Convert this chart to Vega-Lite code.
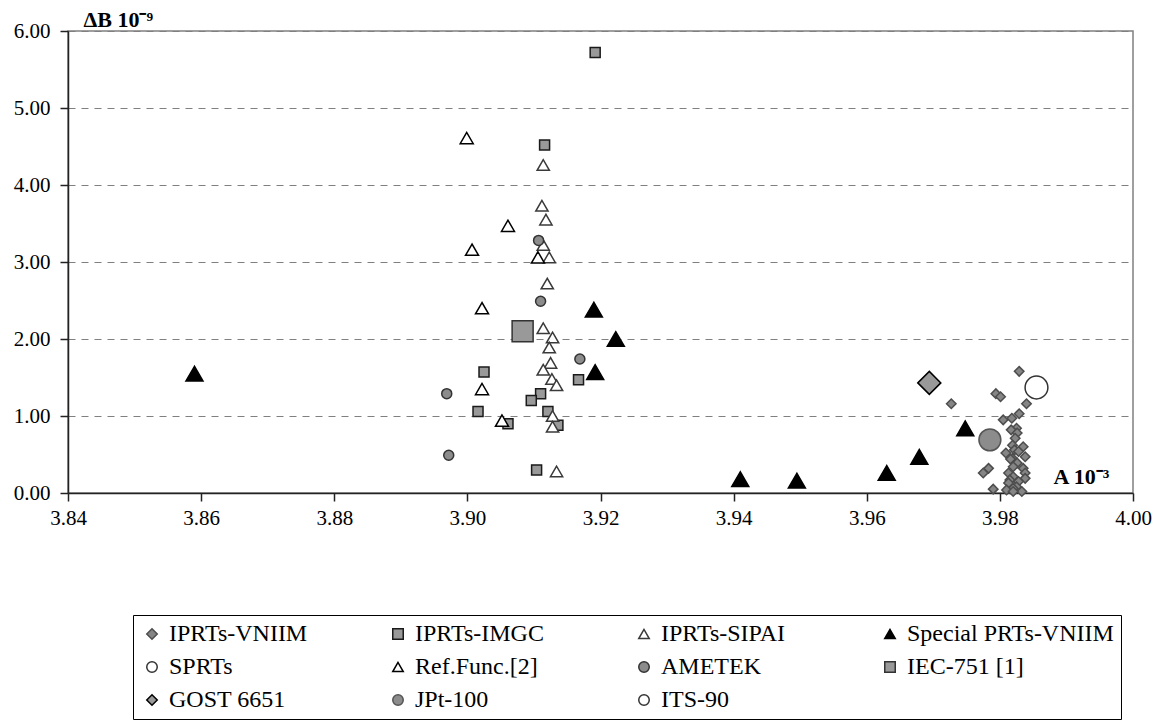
{
  "$schema": "https://vega.github.io/schema/vega-lite/v6.json",
  "width": 1065,
  "height": 462,
  "autosize": {"type": "none"},
  "padding": {"left": 68, "top": 31, "right": 31, "bottom": 231},
  "background": "white",
  "config": {
    "view": {"stroke": "#808080", "strokeWidth": 1.5},
    "font": "Liberation Serif",
    "legend": {
      "labelFont": "Liberation Serif",
      "labelFontSize": 24,
      "labelColor": "black",
      "labelLimit": 400,
      "labelOffset": 5,
      "symbolStrokeWidth": 1.5
    }
  },
  "data": {
    "values": [
      {"series": "IPRTs-VNIIM", "A": 3.9727, "B": 1.16},
      {"series": "IPRTs-VNIIM", "A": 3.9829, "B": 1.58},
      {"series": "IPRTs-VNIIM", "A": 3.9794, "B": 1.29},
      {"series": "IPRTs-VNIIM", "A": 3.9801, "B": 1.25},
      {"series": "IPRTs-VNIIM", "A": 3.984, "B": 1.16},
      {"series": "IPRTs-VNIIM", "A": 3.9829, "B": 1.03},
      {"series": "IPRTs-VNIIM", "A": 3.9818, "B": 0.97},
      {"series": "IPRTs-VNIIM", "A": 3.9805, "B": 0.95},
      {"series": "IPRTs-VNIIM", "A": 3.9825, "B": 0.84},
      {"series": "IPRTs-VNIIM", "A": 3.9817, "B": 0.82},
      {"series": "IPRTs-VNIIM", "A": 3.9826, "B": 0.78},
      {"series": "IPRTs-VNIIM", "A": 3.9823, "B": 0.71},
      {"series": "IPRTs-VNIIM", "A": 3.9835, "B": 0.6},
      {"series": "IPRTs-VNIIM", "A": 3.9819, "B": 0.62},
      {"series": "IPRTs-VNIIM", "A": 3.9809, "B": 0.52},
      {"series": "IPRTs-VNIIM", "A": 3.9822, "B": 0.56},
      {"series": "IPRTs-VNIIM", "A": 3.9828, "B": 0.54},
      {"series": "IPRTs-VNIIM", "A": 3.9819, "B": 0.45},
      {"series": "IPRTs-VNIIM", "A": 3.9838, "B": 0.47},
      {"series": "IPRTs-VNIIM", "A": 3.9816, "B": 0.44},
      {"series": "IPRTs-VNIIM", "A": 3.9826, "B": 0.39},
      {"series": "IPRTs-VNIIM", "A": 3.9783, "B": 0.32},
      {"series": "IPRTs-VNIIM", "A": 3.9775, "B": 0.26},
      {"series": "IPRTs-VNIIM", "A": 3.982, "B": 0.34},
      {"series": "IPRTs-VNIIM", "A": 3.9835, "B": 0.32},
      {"series": "IPRTs-VNIIM", "A": 3.9813, "B": 0.26},
      {"series": "IPRTs-VNIIM", "A": 3.9838, "B": 0.26},
      {"series": "IPRTs-VNIIM", "A": 3.982, "B": 0.21},
      {"series": "IPRTs-VNIIM", "A": 3.9838, "B": 0.19},
      {"series": "IPRTs-VNIIM", "A": 3.9815, "B": 0.17},
      {"series": "IPRTs-VNIIM", "A": 3.9828, "B": 0.15},
      {"series": "IPRTs-VNIIM", "A": 3.9813, "B": 0.13},
      {"series": "IPRTs-VNIIM", "A": 3.9825, "B": 0.08},
      {"series": "IPRTs-VNIIM", "A": 3.982, "B": 0.06},
      {"series": "IPRTs-VNIIM", "A": 3.979, "B": 0.05},
      {"series": "IPRTs-VNIIM", "A": 3.981, "B": 0.04},
      {"series": "IPRTs-VNIIM", "A": 3.9833, "B": 0.02},
      {"series": "IPRTs-VNIIM", "A": 3.982, "B": 0.02},
      {"series": "IPRTs-IMGC", "A": 3.9192, "B": 5.72},
      {"series": "IPRTs-IMGC", "A": 3.9116, "B": 4.52},
      {"series": "IPRTs-IMGC", "A": 3.9025, "B": 1.57},
      {"series": "IPRTs-IMGC", "A": 3.9167, "B": 1.47},
      {"series": "IPRTs-IMGC", "A": 3.911, "B": 1.29},
      {"series": "IPRTs-IMGC", "A": 3.9096, "B": 1.2},
      {"series": "IPRTs-IMGC", "A": 3.9016, "B": 1.06},
      {"series": "IPRTs-IMGC", "A": 3.9121, "B": 1.06},
      {"series": "IPRTs-IMGC", "A": 3.9061, "B": 0.9},
      {"series": "IPRTs-IMGC", "A": 3.9136, "B": 0.88},
      {"series": "IPRTs-IMGC", "A": 3.9104, "B": 0.3},
      {"series": "IPRTs-SIPAI", "A": 3.9114, "B": 4.26},
      {"series": "IPRTs-SIPAI", "A": 3.9112, "B": 3.73},
      {"series": "IPRTs-SIPAI", "A": 3.9118, "B": 3.55},
      {"series": "IPRTs-SIPAI", "A": 3.9114, "B": 3.22},
      {"series": "IPRTs-SIPAI", "A": 3.9123, "B": 3.06},
      {"series": "IPRTs-SIPAI", "A": 3.912, "B": 2.72},
      {"series": "IPRTs-SIPAI", "A": 3.9114, "B": 2.14},
      {"series": "IPRTs-SIPAI", "A": 3.9128, "B": 2.02},
      {"series": "IPRTs-SIPAI", "A": 3.9123, "B": 1.89},
      {"series": "IPRTs-SIPAI", "A": 3.9125, "B": 1.69},
      {"series": "IPRTs-SIPAI", "A": 3.9114, "B": 1.6},
      {"series": "IPRTs-SIPAI", "A": 3.9127, "B": 1.48},
      {"series": "IPRTs-SIPAI", "A": 3.9134, "B": 1.4},
      {"series": "IPRTs-SIPAI", "A": 3.9128, "B": 1.0},
      {"series": "IPRTs-SIPAI", "A": 3.9128, "B": 0.86},
      {"series": "IPRTs-SIPAI", "A": 3.9134, "B": 0.28},
      {"series": "Ref.Func.[2]", "A": 3.8999, "B": 4.61},
      {"series": "Ref.Func.[2]", "A": 3.9061, "B": 3.47},
      {"series": "Ref.Func.[2]", "A": 3.9007, "B": 3.16},
      {"series": "Ref.Func.[2]", "A": 3.9106, "B": 3.06},
      {"series": "Ref.Func.[2]", "A": 3.9022, "B": 2.4},
      {"series": "Ref.Func.[2]", "A": 3.9022, "B": 1.35},
      {"series": "Ref.Func.[2]", "A": 3.9052, "B": 0.94},
      {"series": "AMETEK", "A": 3.9107, "B": 3.28},
      {"series": "AMETEK", "A": 3.911, "B": 2.49},
      {"series": "AMETEK", "A": 3.9169, "B": 1.74},
      {"series": "AMETEK", "A": 3.8969, "B": 1.29},
      {"series": "AMETEK", "A": 3.8972, "B": 0.49},
      {"series": "Special PRTs-VNIIM", "A": 3.859, "B": 1.55},
      {"series": "Special PRTs-VNIIM", "A": 3.919, "B": 2.38},
      {"series": "Special PRTs-VNIIM", "A": 3.9223, "B": 2.0},
      {"series": "Special PRTs-VNIIM", "A": 3.9192, "B": 1.57},
      {"series": "Special PRTs-VNIIM", "A": 3.941, "B": 0.18},
      {"series": "Special PRTs-VNIIM", "A": 3.9495, "B": 0.16},
      {"series": "Special PRTs-VNIIM", "A": 3.963, "B": 0.26},
      {"series": "Special PRTs-VNIIM", "A": 3.9679, "B": 0.47},
      {"series": "Special PRTs-VNIIM", "A": 3.9748, "B": 0.84},
      {"series": "IEC-751 [1]", "A": 3.9083, "B": 2.1},
      {"series": "GOST 6651", "A": 3.9694, "B": 1.43},
      {"series": "JPt-100", "A": 3.9785, "B": 0.69},
      {"series": "ITS-90", "A": 3.9855, "B": 1.37}
    ]
  },
  "mark": {"type": "point", "filled": true, "strokeWidth": 1.5, "opacity": 1},
  "encoding": {
    "x": {
      "field": "A",
      "type": "quantitative",
      "scale": {"domain": [3.84, 4.0], "nice": false, "zero": false},
      "axis": {
        "title": "A 10⁻³",
        "titleX": 985,
        "titleY": -10,
        "titleAlign": "left",
        "titleBaseline": "alphabetic",
        "titleFont": "Liberation Serif",
        "titleFontSize": 22,
        "titleFontWeight": "bold",
        "titleColor": "black",
        "values": [3.84, 3.86, 3.88, 3.9, 3.92, 3.94, 3.96, 3.98, 4.0],
        "format": ".2f",
        "labelFont": "Liberation Serif",
        "labelFontSize": 21,
        "labelColor": "black",
        "labelPadding": 6,
        "labelOverlap": false,
        "labelFlush": false,
        "tickSize": 8,
        "tickColor": "#222",
        "tickWidth": 1.5,
        "domainColor": "#222",
        "domainWidth": 1.5,
        "grid": false
      }
    },
    "y": {
      "field": "B",
      "type": "quantitative",
      "scale": {"domain": [0, 6], "nice": false},
      "axis": {
        "title": "ΔB 10⁻⁹",
        "titleAngle": 0,
        "titleX": 15,
        "titleY": -5,
        "titleAlign": "left",
        "titleBaseline": "alphabetic",
        "titleFont": "Liberation Serif",
        "titleFontSize": 22,
        "titleFontWeight": "bold",
        "titleColor": "black",
        "values": [0, 1, 2, 3, 4, 5, 6],
        "format": ".2f",
        "labelFont": "Liberation Serif",
        "labelFontSize": 21,
        "labelColor": "black",
        "labelPadding": 10,
        "labelOverlap": false,
        "labelFlush": false,
        "tickSize": 8,
        "tickColor": "#222",
        "tickWidth": 1.5,
        "domainColor": "#222",
        "domainWidth": 1.5,
        "grid": true,
        "gridColor": "#808080",
        "gridDash": [7, 6],
        "gridWidth": 1.2
      }
    },
    "shape": {
      "field": "series",
      "type": "nominal",
      "title": null,
      "scale": {
        "domain": ["IPRTs-VNIIM", "IPRTs-IMGC", "IPRTs-SIPAI", "Special PRTs-VNIIM", "SPRTs", "Ref.Func.[2]", "AMETEK", "IEC-751 [1]", "GOST 6651", "JPt-100", "ITS-90"],
        "range": ["diamond", "square", "triangle-up", "triangle-up", "circle", "triangle-up", "circle", "square", "diamond", "circle", "circle"]
      },
      "legend": {
        "orient": "none", "legendX": 65, "legendY": 584, "columns": 4, "direction": "horizontal",
        "gridAlign": "all", "columnPadding": 10, "rowPadding": 9, "padding": 7, "strokeColor": "black",
        "symbolSize": 110
      }
    },
    "fill": {
      "field": "series",
      "type": "nominal",
      "title": null,
      "scale": {
        "domain": ["IPRTs-VNIIM", "IPRTs-IMGC", "IPRTs-SIPAI", "Special PRTs-VNIIM", "SPRTs", "Ref.Func.[2]", "AMETEK", "IEC-751 [1]", "GOST 6651", "JPt-100", "ITS-90"],
        "range": ["#858585", "#999999", "#ffffff", "#000000", "#ffffff", "#ffffff", "#8c8c8c", "#999999", "#999999", "#8c8c8c", "#ffffff"]
      },
      "legend": {
        "orient": "none", "legendX": 65, "legendY": 584, "columns": 4, "direction": "horizontal",
        "gridAlign": "all", "columnPadding": 10, "rowPadding": 9, "padding": 7, "strokeColor": "black",
        "symbolSize": 110
      }
    },
    "stroke": {
      "field": "series",
      "type": "nominal",
      "title": null,
      "scale": {
        "domain": ["IPRTs-VNIIM", "IPRTs-IMGC", "IPRTs-SIPAI", "Special PRTs-VNIIM", "SPRTs", "Ref.Func.[2]", "AMETEK", "IEC-751 [1]", "GOST 6651", "JPt-100", "ITS-90"],
        "range": ["#4d4d4d", "#1a1a1a", "#3a3a3a", "#000000", "#333333", "#000000", "#333333", "#333333", "#000000", "#555555", "#333333"]
      },
      "legend": {
        "orient": "none", "legendX": 65, "legendY": 584, "columns": 4, "direction": "horizontal",
        "gridAlign": "all", "columnPadding": 10, "rowPadding": 9, "padding": 7, "strokeColor": "black",
        "symbolSize": 110
      }
    },
    "size": {
      "field": "series",
      "type": "nominal",
      "title": null,
      "legend": null,
      "scale": {
        "type": "ordinal",
        "domain": ["SPRTs", "IPRTs-VNIIM", "IPRTs-IMGC", "IPRTs-SIPAI", "Special PRTs-VNIIM", "Ref.Func.[2]", "AMETEK", "IEC-751 [1]", "GOST 6651", "JPt-100", "ITS-90"],
        "range": [81, 90, 100, 150, 290, 170, 100, 441, 530, 480, 520]
      }
    }
  }
}
